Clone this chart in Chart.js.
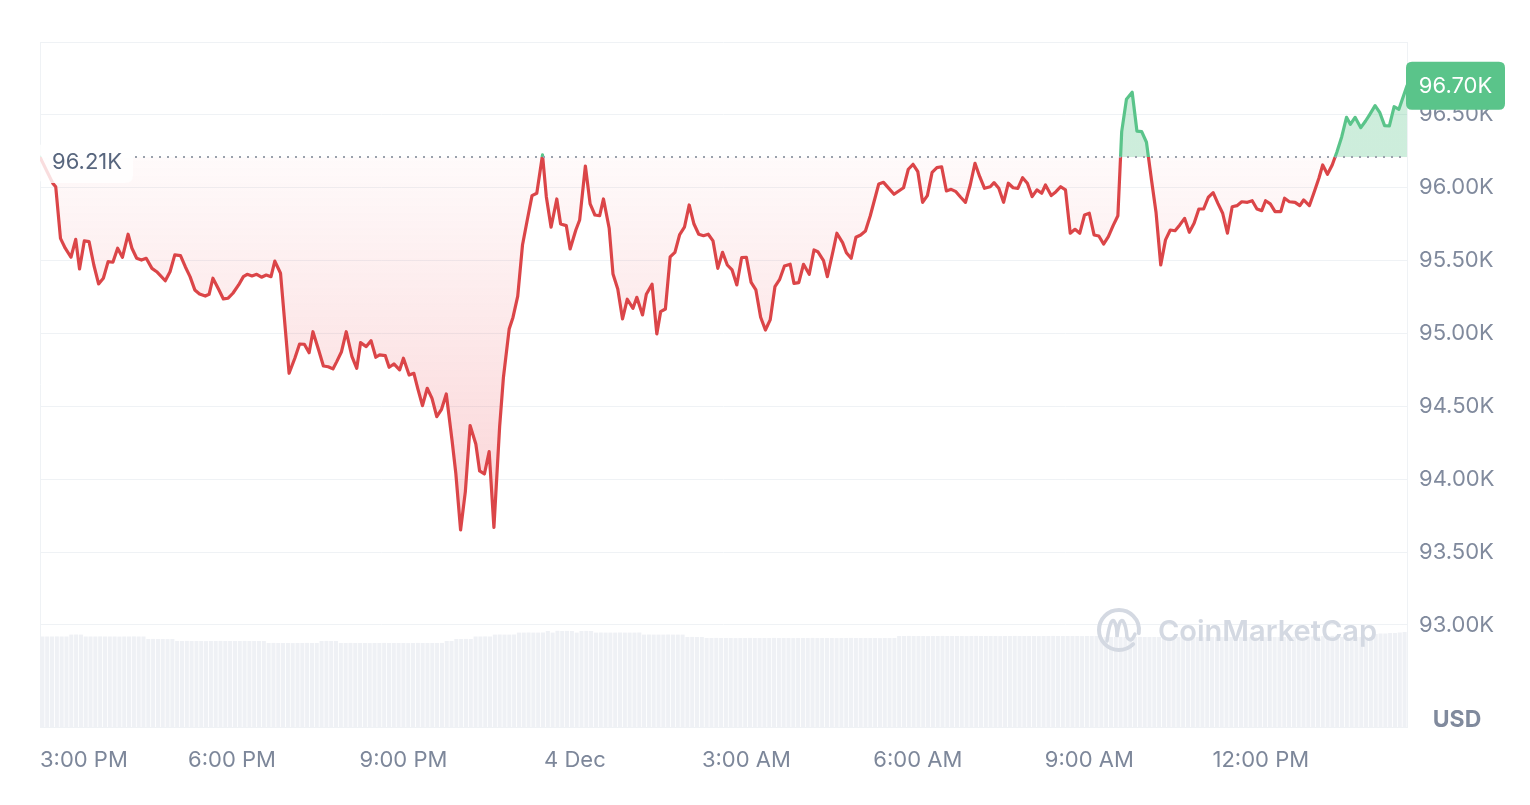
<!DOCTYPE html>
<html>
<head>
<meta charset="utf-8">
<script src="https://cdn.jsdelivr.net/npm/chart.js@4.4.1/dist/chart.umd.min.js"></script>
<style>
  html, body { margin: 0; padding: 0; background: #ffffff; }
  #wrap { width: 1530px; height: 805px; position: relative; }
  canvas { display: block; }
</style>
</head>
<body>
<div id="wrap"><canvas id="c" width="1530" height="805"></canvas></div>
<script>
// ---- data (time in minutes relative to 00:00, 4 Dec) ----
const openPrice = 96210;
const lastPrice = 96700;
const times = [
  -561.5, -548, -545, -540, -535, -529, -524, -520, -515, -510,
  -505, -500, -495, -490, -485, -480, -475, -469, -465, -460,
  -455, -450, -444, -439, -430, -425, -420, -414, -409, -404,
  -399, -394, -388, -384, -380, -374, -369, -364, -359, -353,
  -348, -344, -339, -334, -329, -324, -319, -315, -309, -300,
  -294, -289, -284, -279, -275, -269, -264, -259, -254, -250,
  -245, -240, -234, -229, -225, -219, -214, -209, -205, -199,
  -195, -190, -184, -180, -174, -169, -165, -160, -155, -150,
  -145, -140, -135, -129, -125, -120, -115, -110, -104, -100,
  -95, -90, -85, -79, -75, -69, -65, -60, -55, -50,
  -45, -40, -34, -30, -25, -19, -15, -9, -5, 1,
  5, 11, 16, 21, 26, 30, 36, 40, 45, 50,
  55, 61, 65, 71, 75, 81, 86, 90, 95, 100,
  105, 110, 115, 120, 125, 130, 135, 140, 145, 150,
  155, 160, 165, 170, 175, 180, 185, 190, 195, 200,
  205, 210, 215, 220, 226, 230, 235, 240, 246, 251,
  255, 261, 265, 271, 275, 281, 285, 290, 295, 300,
  305, 310, 314, 319, 324, 330, 335, 340, 345, 350,
  355, 360, 365, 370, 375, 380, 385, 390, 395, 400,
  405, 410, 415, 420, 425, 430, 436, 440, 445, 450,
  455, 460, 465, 470, 475, 480, 485, 490, 494, 500,
  505, 510, 515, 520, 525, 530, 535, 540, 545, 550,
  555, 560, 565, 570, 574, 579, 585, 590, 595, 600,
  605, 610, 615, 620, 625, 630, 635, 640, 645, 650,
  655, 660, 665, 670, 675, 680, 685, 690, 695, 700,
  706, 711, 716, 721, 725, 730, 735, 741, 745, 750,
  756, 761, 765, 771, 776, 781, 785, 790, 795, 800,
  805, 810, 814, 819, 825, 830, 834, 840, 845, 850,
  855, 860, 865, 873.5
];
const prices = [
  96210, 96030, 96007, 95653, 95585, 95523, 95646, 95443, 95635, 95630,
  95470, 95340, 95379, 95493, 95489, 95585, 95523, 95681, 95585, 95516,
  95504, 95516, 95447, 95424, 95362, 95424, 95539, 95534, 95458, 95390,
  95299, 95271, 95257, 95269, 95379, 95303, 95237, 95242, 95276, 95333,
  95390, 95406, 95395, 95406, 95386, 95401, 95390, 95497, 95413, 94727,
  94830, 94928, 94926, 94868, 95012, 94887, 94777, 94772, 94757, 94807,
  94875, 95012, 94841, 94761, 94937, 94910, 94951, 94837, 94853, 94848,
  94768, 94791, 94750, 94830, 94715, 94727, 94624, 94505, 94624, 94555,
  94429, 94480, 94585, 94269, 94041, 93652, 93915, 94368, 94242, 94057,
  94036, 94189, 93670, 94361, 94700, 95030, 95110, 95256, 95607, 95779,
  95946, 95962, 96225, 95939, 95729, 95923, 95751, 95740, 95580, 95710,
  95779, 96149, 95889, 95813, 95808, 95923, 95722, 95408, 95305, 95100,
  95235, 95173, 95248, 95127, 95269, 95338, 94997, 95150, 95168, 95525,
  95557, 95679, 95729, 95882, 95751, 95681, 95671, 95681, 95635, 95447,
  95557, 95470, 95436, 95333, 95520, 95523, 95351, 95299, 95111, 95024,
  95093, 95321, 95372, 95463, 95475, 95344, 95349, 95475, 95406, 95573,
  95561, 95500, 95390, 95566, 95688, 95623, 95554, 95516, 95660, 95676,
  95703, 95806, 95904, 96026, 96037, 95992, 95955, 95978, 96000, 96127,
  96161, 96110, 95900, 95946, 96106, 96138, 96144, 95978, 95989, 95973,
  95935, 95900, 96019, 96168, 96076, 95996, 96007, 96035, 95996, 95900,
  96031, 96000, 95996, 96069, 96031, 95939, 95985, 95962, 96019, 95946,
  95973, 96007, 95985, 95688, 95715, 95688, 95813, 95825, 95676, 95669,
  95614, 95664, 95740, 95808, 96385, 96607, 96655, 96389, 96385, 96312,
  96067, 95834, 95470, 95642, 95710, 95705, 95745, 95790, 95694, 95756,
  95854, 95854, 95935, 95966, 95893, 95825, 95688, 95870, 95877, 95904,
  95900, 95911, 95854, 95843, 95911, 95889, 95836, 95836, 95928, 95904,
  95900, 95877, 95916, 95877, 95969, 96065, 96156, 96092, 96156, 96247,
  96350, 96483, 96435, 96483, 96412, 96458, 96499, 96563, 96515, 96426,
  96424, 96556, 96538, 96700
];
// volume per 5-minute interval (millions USD), in order
const volumes = [
  905, 905, 905, 906, 905, 905, 924, 925, 924, 905,
  905, 905, 906, 905, 905, 905, 904, 905, 905, 906,
  905, 905, 880, 881, 880, 880, 879, 880, 860, 860,
  861, 860, 860, 860, 859, 860, 860, 861, 860, 860,
  860, 860, 861, 860, 860, 860, 860, 840, 841, 840,
  840, 840, 839, 840, 840, 841, 840, 840, 860, 861,
  860, 860, 840, 840, 841, 840, 840, 840, 839, 840,
  840, 841, 840, 840, 840, 840, 839, 840, 841, 840,
  840, 840, 840, 841, 860, 860, 880, 880, 881, 880,
  905, 905, 906, 905, 924, 925, 924, 924, 925, 944,
  944, 945, 944, 944, 945, 960, 944, 962, 960, 961,
  960, 944, 960, 961, 960, 944, 945, 944, 944, 944,
  945, 944, 944, 944, 945, 924, 925, 924, 924, 924,
  925, 924, 924, 924, 900, 901, 900, 900, 890, 890,
  891, 890, 890, 890, 889, 890, 890, 891, 890, 890,
  890, 890, 891, 890, 890, 890, 889, 890, 890, 890,
  891, 890, 890, 890, 890, 889, 890, 890, 891, 890,
  890, 890, 890, 890, 889, 890, 890, 890, 910, 910,
  911, 910, 910, 910, 909, 910, 910, 911, 910, 910,
  910, 910, 909, 910, 911, 910, 910, 910, 910, 909,
  910, 910, 911, 910, 910, 910, 910, 909, 910, 910,
  911, 910, 910, 910, 910, 910, 909, 910, 910, 910,
  900, 901, 900, 900, 900, 899, 900, 900, 901, 900,
  900, 900, 900, 899, 900, 900, 901, 900, 900, 900,
  900, 899, 900, 900, 901, 900, 900, 900, 900, 899,
  900, 900, 901, 900, 900, 900, 900, 899, 900, 900,
  902, 903, 902, 904, 905, 906, 908, 910, 912, 915,
  901, 900, 900, 900, 900, 899, 900, 930, 935, 935,
  940, 940, 945, 950
];
// x-axis tick labels
const xTickValues = [-540, -360, -180, 0, 180, 360, 540, 720];
const xTickLabels = ['3:00 PM', '6:00 PM', '9:00 PM', '4 Dec', '3:00 AM', '6:00 AM', '9:00 AM', '12:00 PM'];
// y-axis ticks
const yTickValues = [93000, 93500, 94000, 94500, 95000, 95500, 96000, 96500];
const yMin = 92300, yMax = 97000;

// ---- styles ----
const FONT = 'Inter, "Noto Sans", sans-serif';
const FS = 22;
const RED = '#db4548';
const GREEN = '#5ac48a';
const GRID = '#eff2f5';
const LABEL = '#808a9d';

function splitStroke(ctx) {
  const chart = ctx.chart;
  const { chartArea, scales } = chart;
  if (!chartArea || !scales.y) return RED;
  const y0 = scales.y.getPixelForValue(openPrice);
  const t = Math.min(1, Math.max(0, (y0 - chartArea.top) / (chartArea.bottom - chartArea.top)));
  const g = chart.ctx.createLinearGradient(0, chartArea.top, 0, chartArea.bottom);
  g.addColorStop(0, GREEN); g.addColorStop(t, GREEN);
  g.addColorStop(t, RED); g.addColorStop(1, RED);
  return g;
}
function splitFill(ctx) {
  const chart = ctx.chart;
  const { chartArea, scales } = chart;
  if (!chartArea || !scales.y) return 'rgba(234,57,67,0.08)';
  const y0 = scales.y.getPixelForValue(openPrice);
  const yLow = scales.y.getPixelForValue(Math.min(...prices));
  const h = chartArea.bottom - chartArea.top;
  const t = Math.min(1, Math.max(0, (y0 - chartArea.top) / h));
  const t2 = Math.min(1, Math.max(t, (yLow - chartArea.top) / h));
  const g = chart.ctx.createLinearGradient(0, chartArea.top, 0, chartArea.bottom);
  g.addColorStop(0, 'rgba(90,196,138,0.30)');
  g.addColorStop(t, 'rgba(90,196,138,0.30)');
  g.addColorStop(t, 'rgba(234,57,67,0.025)');
  g.addColorStop(t2, 'rgba(234,57,67,0.22)');
  g.addColorStop(1, 'rgba(234,57,67,0.22)');
  return g;
}

function roundRect(c, x, y, w, h, r) {
  c.beginPath();
  c.moveTo(x + r, y);
  c.lineTo(x + w - r, y);
  c.quadraticCurveTo(x + w, y, x + w, y + r);
  c.lineTo(x + w, y + h - r);
  c.quadraticCurveTo(x + w, y + h, x + w - r, y + h);
  c.lineTo(x + r, y + h);
  c.quadraticCurveTo(x, y + h, x, y + h - r);
  c.lineTo(x, y + r);
  c.quadraticCurveTo(x, y, x + r, y);
  c.closePath();
}

const decorPlugin = {
  id: 'decor',
  beforeDatasetsDraw(chart) {
    const c = chart.ctx, a = chart.chartArea;
    c.save();
    c.strokeStyle = GRID; c.lineWidth = 1;
    c.beginPath(); c.moveTo(a.left + 0.5, a.top); c.lineTo(a.left + 0.5, a.bottom); c.stroke();
    c.restore();
  },
  afterDatasetsDraw(chart) {
    const c = chart.ctx, a = chart.chartArea, y = chart.scales.y;
    c.save();
    const yb = Math.round(y.getPixelForValue(openPrice));
    c.strokeStyle = '#9aa1ac'; c.lineWidth = 2; c.setLineDash([2, 6]);
    c.beginPath(); c.moveTo(a.left + 95, yb); c.lineTo(a.right - 2, yb); c.stroke();
    c.setLineDash([]);
    c.fillStyle = 'rgba(255,255,255,0.82)';
    roundRect(c, a.left - 2, yb - 14, 95, 40, 8); c.fill();
    c.fillStyle = '#58667e';
    c.font = FS + 'px ' + FONT; c.textBaseline = 'middle'; c.textAlign = 'left';
    c.fillText((openPrice / 1000).toFixed(2) + 'K', a.left + 12, yb + 5);
    c.restore();
  },
  afterDraw(chart) {
    const c = chart.ctx, a = chart.chartArea, y = chart.scales.y, x = chart.scales.x;
    c.save();
    c.font = FS + 'px ' + FONT; c.fillStyle = '#7d879a'; c.textBaseline = 'middle'; c.textAlign = 'center';
    xTickValues.forEach((v, i) => {
      const lbl = xTickLabels[i];
      const w = c.measureText(lbl).width;
      let px = x.getPixelForValue(v);
      if (px - w / 2 < a.left) px = a.left + w / 2;
      c.fillText(lbl, px, a.bottom + 33);
    });
    c.font = 'bold 23px ' + FONT; c.fillStyle = LABEL; c.textAlign = 'center';
    c.fillText('USD', a.right + 50, a.bottom - 7);
    const yl = y.getPixelForValue(lastPrice);
    c.fillStyle = GREEN;
    roundRect(c, a.right - 1, yl - 24, 99, 48, 6); c.fill();
    c.fillStyle = '#ffffff'; c.font = FS + 'px ' + FONT; c.textAlign = 'center';
    c.fillText((lastPrice / 1000).toFixed(2) + 'K', a.right + 48.5, yl + 1);
    const wc = '#d4d9e2';
    c.strokeStyle = wc; c.lineWidth = 4; c.lineCap = 'round';
    c.beginPath(); c.arc(1119, 630, 20, 0.25 * Math.PI, 2.05 * Math.PI); c.stroke();
    c.lineWidth = 3.5;
    c.beginPath();
    c.moveTo(1107, 641);
    c.quadraticCurveTo(1110, 618, 1114, 621);
    c.quadraticCurveTo(1117, 625, 1117, 637);
    c.quadraticCurveTo(1119, 618, 1123, 621);
    c.quadraticCurveTo(1126, 625, 1127, 637);
    c.quadraticCurveTo(1131, 644, 1135, 634);
    c.stroke();
    c.fillStyle = wc; c.font = '600 29px ' + FONT; c.textAlign = 'left'; c.textBaseline = 'middle';
    c.fillText('CoinMarketCap', 1158, 632);
    c.restore();
  }
};

const ctx = document.getElementById('c').getContext('2d');
new Chart(ctx, {
  data: {
    datasets: [
      {
        type: 'line',
        label: 'Price',
        data: prices.map((p, i) => ({ x: times[i], y: p })),
        xAxisID: 'x',
        yAxisID: 'y',
        borderColor: splitStroke,
        backgroundColor: splitFill,
        borderWidth: 3.2,
        borderJoinStyle: 'round',
        borderCapStyle: 'round',
        pointRadius: 0,
        tension: 0,
        fill: { value: openPrice },
        order: 0
      },
      {
        type: 'bar',
        label: 'Volume',
        data: volumes.map((v, i) => ({ x: i, y: v })),
        xAxisID: 'xv',
        yAxisID: 'yv',
        backgroundColor: '#eff1f5',
        barPercentage: 0.84,
        categoryPercentage: 1,
        grouped: false,
        order: 1
      }
    ]
  },
  options: {
    responsive: false,
    animation: false,
    devicePixelRatio: 1,
    layout: { padding: { left: 40, top: 42, right: 0, bottom: 0 } },
    plugins: { legend: { display: false }, tooltip: { enabled: false } },
    scales: {
      x: {
        type: 'linear',
        offset: false,
        min: -561.5,
        max: 873.5,
        ticks: { display: false },
        grid: { display: false, offset: false },
        border: { display: true, color: GRID },
        afterFit(s) { s.height = 78; }
      },
      xv: {
        type: 'linear',
        display: false,
        offset: false,
        min: -0.5,
        max: volumes.length - 0.5
      },
      y: {
        position: 'right',
        min: yMin,
        max: yMax,
        afterBuildTicks(s) {
          s.ticks = yTickValues.concat([yMax]).map(v => ({ value: v }));
        },
        ticks: {
          padding: 12,
          color: LABEL,
          font: { family: FONT, size: FS },
          callback: (v) => yTickValues.includes(v) ? (v / 1000).toFixed(2) + 'K' : ''
        },
        grid: { drawTicks: false, color: GRID },
        border: { display: true, color: GRID },
        afterFit(s) { s.width = 123; }
      },
      yv: {
        display: false,
        min: 0,
        max: 6850
      }
    }
  },
  plugins: [decorPlugin]
});
</script>
</body>
</html>
